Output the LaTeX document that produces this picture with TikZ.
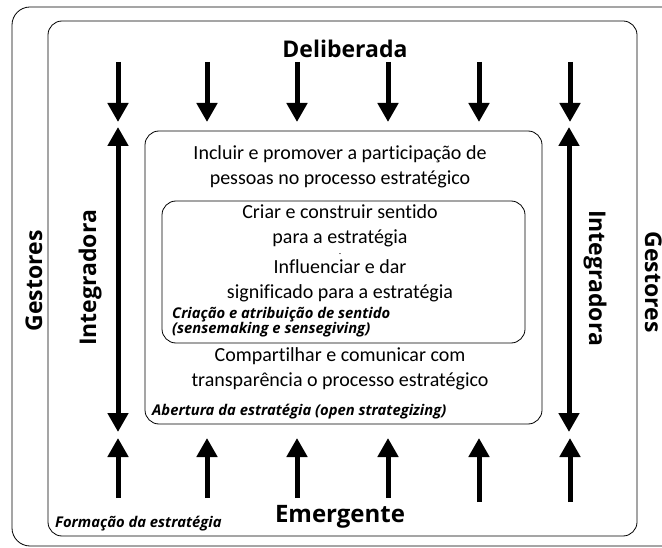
\documentclass[tikz,border=0pt]{standalone}
\usepackage{fontspec}
\setmainfont{Carlito}[Ligatures=NoCommon]
\newfontfamily\headfont{Open Sans}
\usetikzlibrary{arrows.meta}
\begin{document}
\begin{tikzpicture}[x=1pt,y=-1pt,
 box/.style={draw, line width=0.8pt, rounded corners=14pt, inner sep=0pt},
 arr/.style={line width=5pt, -{Triangle[length=19pt,width=20pt]}},
 darr/.style={line width=5pt, {Triangle[length=19pt,width=20pt]}-{Triangle[length=19pt,width=20pt]}},
 body/.style={font=\fontsize{20}{25}\selectfont, anchor=base, inner sep=0pt},
 head/.style={font=\headfont\bfseries\fontsize{23}{25}\selectfont, inner sep=0pt, anchor=base},
 note/.style={font=\headfont\bfseries\itshape\fontsize{14.8}{16}\selectfont, inner sep=0pt, anchor=base west}]
\useasboundingbox (0,0) rectangle (662,548);
% boxes
\node[box, rounded corners=18pt, minimum width=680pt, minimum height=539pt] (outer) at (352,276.5) {};
\node[box, minimum width=589pt, minimum height=515pt] (inner) at (342.5,278.5) {};
\node[box, minimum width=397pt, minimum height=293pt] (open) at (343.5,277.5) {};
\node[box, minimum width=363pt, minimum height=142pt] (sense) at (343.5,272) {};
% headings
\node[head] (delib) at (345,58) {Deliberada};
\node[head, font=\headfont\bfseries\fontsize{24}{26}\selectfont] (emerg) at (340,522) {Emergente};
\node[head, rotate=90] (gestL) at (42,281) {Gestores};
\node[head, rotate=90] (integL) at (96,278) {Integradora};
\node[head, rotate=-90] (integR) at (589,278) {Integradora};
\node[head, rotate=-90] (gestR) at (645,282) {Gestores};
% texts
\node[body] (t1a) at (340,160) {Incluir e promover a participação de};
\node[body] (t1b) at (340,185) {pessoas no processo estratégico};
\node[body] (t2a) at (340,219) {Criar e construir sentido};
\node[body] (t2b) at (340,244) {para a estratégia};
\node[body, font=\fontsize{8}{8}\selectfont] (dash) at (340,257) {-};
\node[body] (t3a) at (340,274) {Influenciar e dar};
\node[body] (t3b) at (340,299) {significado para a estratégia};
\node[note] (n1a) at (172,319) {Criação e atribuição de sentido};
\node[note] (n1b) at (172,334) {(sensemaking e sensegiving)};
\node[body] (t4a) at (340,362) {Compartilhar e comunicar com};
\node[body] (t4b) at (340,387) {transparência o processo estratégico};
\node[note] (n2) at (152,415) {Abertura da estratégia (open strategizing)};
\node[note] (n3) at (55,527) {Formação da estratégia};
% arrows
\foreach \i/\x/\y in {1/118/498,2/207/498,3/297/498,4/388/498,5/479/502,6/570/502}{
  \coordinate (ts\i) at (\x,62);
  \coordinate (te\i) at (\x,122);
  \coordinate (bs\i) at (\x,\y);
  \coordinate (be\i) at (\x,438);
  \draw[arr] (ts\i) -- (te\i);
  \draw[arr] (bs\i) -- (be\i);
}
\coordinate (dL1) at (118,127);
\coordinate (dL2) at (118,432);
\coordinate (dR1) at (569,127);
\coordinate (dR2) at (569,432);
\draw[darr] (dL1) -- (dL2);
\draw[darr] (dR1) -- (dR2);
\end{tikzpicture}
\end{document}
